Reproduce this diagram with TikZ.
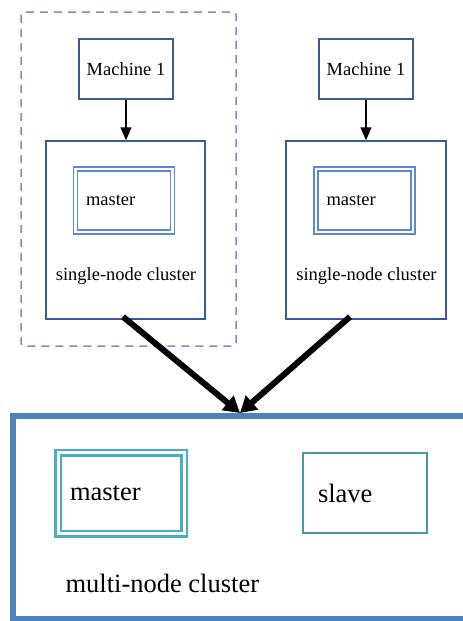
\documentclass[tikz,border=0pt]{standalone}
\usepackage{fontspec}
\setmainfont{Liberation Serif}
\usetikzlibrary{arrows.meta,positioning}

\definecolor{boxblue}{HTML}{3C5A99}
\definecolor{masterblue}{HTML}{5A8ACB}
\definecolor{clusterblue}{HTML}{4F81BD}
\definecolor{mastercyan}{HTML}{4BACC6}
\definecolor{slaveteal}{HTML}{4A98A6}
\definecolor{groupviolet}{HTML}{9A80C0}

\tikzset{
  smallfont/.style={font=\fontsize{18.5}{21}\selectfont},
  bigfont/.style={font=\fontsize{26.5}{30}\selectfont},
  plainbox/.style={draw=boxblue, line width=1.5pt, fill=white, inner sep=0pt},
  machinebox/.style={plainbox, smallfont, minimum width=94pt, minimum height=60pt},
  clusterbox/.style={plainbox, minimum width=159pt, minimum height=178pt},
  smallmaster/.style={draw=masterblue, line width=1.5pt, double=white, double distance=2.5pt,
    smallfont, minimum width=97pt, minimum height=63pt, inner xsep=10.5pt,
    text width=76pt, align=left},
  bigmaster/.style={draw=mastercyan, line width=2.5pt, double=white, double distance=3pt,
    bigfont, minimum width=126pt, minimum height=81pt, inner xsep=12pt,
    text width=102pt, align=left},
  slavebox/.style={draw=slaveteal, line width=2.5pt, bigfont, minimum width=124pt,
    minimum height=80pt, inner xsep=15pt, text width=94pt, align=left},
  thinarrow/.style={draw=black, line width=1.5pt, -{Triangle[length=13pt,width=11pt]}},
  thickarrow/.style={draw=black, line width=6pt, -{Triangle[length=16pt,width=18pt]}},
  groupbox/.style={draw=groupviolet, line width=1.5pt, dash pattern=on 8pt off 6pt, rounded corners=3pt},
}

\begin{document}
\begin{tikzpicture}[x=1pt, y=-1pt]
  \useasboundingbox (0,0) rectangle (463,621);
  \fill[white] (0,0) rectangle (463,621);

  % dashed grouping around the left machine
  \draw[groupbox] (21,12) rectangle (236,346);

  % left column
  \node[machinebox] (lm) at (126,69) {Machine 1};
  \node[clusterbox] (lc) at (125.5,230) {};
  \node[smallmaster] (lmaster) at (124,200.5) {master};
  \node[smallfont] (lctext) at (126,276) {single-node cluster};

  % right column
  \node[machinebox] (rm) at (366,69) {Machine 1};
  \node[clusterbox, minimum width=160pt] (rc) at (366,230) {};
  \node[smallmaster] (rmaster) at (364.5,200.5) {master};
  \node[smallfont] (rctext) at (366.5,276) {single-node cluster};

  \draw[thinarrow] (lm) -- (lc.north -| lm);
  \draw[thinarrow] (rm) -- (rc.north -| rm);

  % multi-node cluster (runs past the right edge)
  \node[draw=clusterblue, line width=6pt, inner sep=0pt, minimum width=470pt,
        minimum height=203pt, anchor=north west] (multi) at (10,413) {};
  \node[bigmaster] (bmaster) at (121,493) {master};
  \node[slavebox] (slave) at (365,493) {slave};
  \node[bigfont, anchor=west] (mtext) at (62,583) {multi-node cluster};

  % merging arrows
  \coordinate (join) at (multi.north -| 240,0);
  \coordinate (lstart) at ([yshift=3pt]lc.south -| 123,0);
  \coordinate (rstart) at ([yshift=3pt]rc.south -| 350,0);
  \draw[thickarrow] (lstart) -- (join);
  \draw[thickarrow] (rstart) -- (join);
\end{tikzpicture}
\end{document}
